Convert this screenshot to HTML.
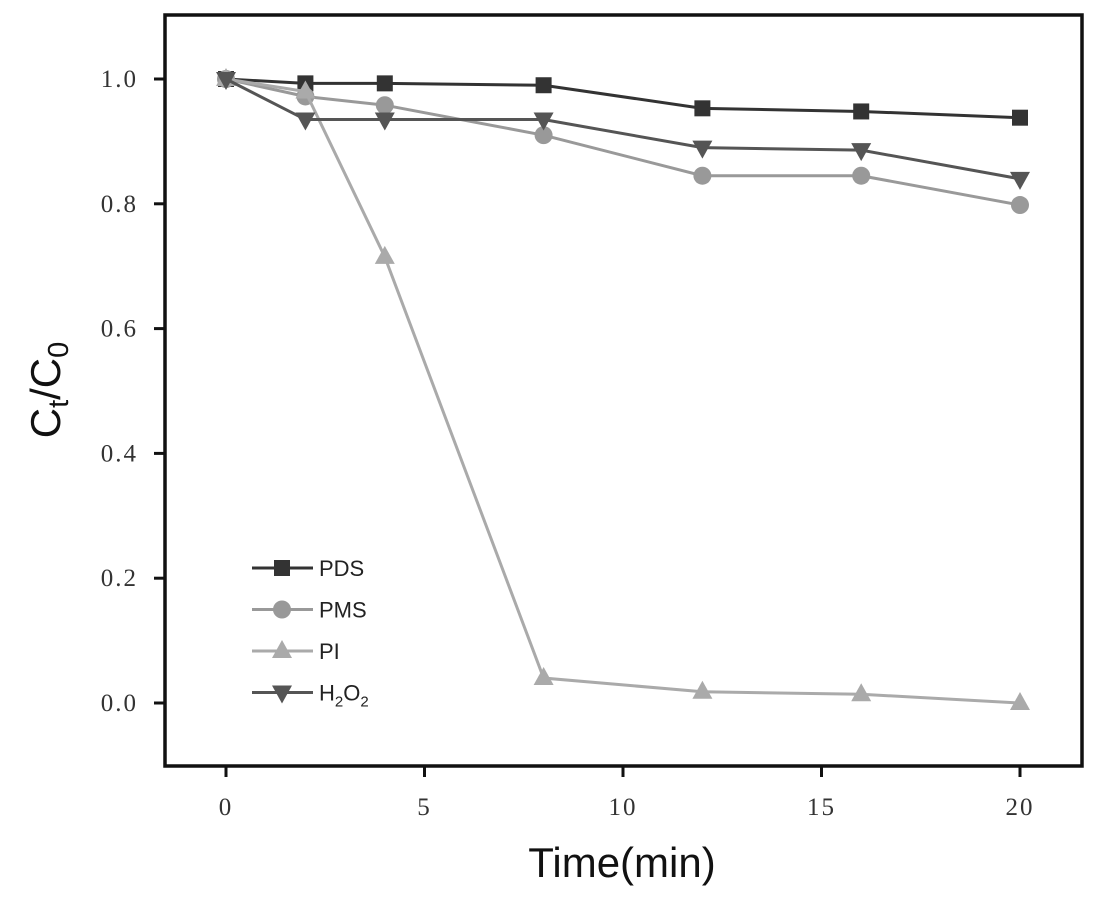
<!DOCTYPE html><html><head><style>body{margin:0;background:#fff}svg{display:block}</style></head><body>
<svg id="s" width="1098" height="904" xmlns="http://www.w3.org/2000/svg"></svg>
<script>
const s=document.getElementById('s');
const X=t=>226+39.7*t, Y=v=>703-624*v;
let h='';
h+='<rect x="165" y="15" width="917" height="751" fill="none" stroke="#111" stroke-width="3.5"/>';
[0,5,10,15,20].forEach(t=>{h+=`<line x1="${X(t)}" y1="766" x2="${X(t)}" y2="777" stroke="#111" stroke-width="3"/><text x="${X(t)}" y="815" font-family="Liberation Serif,serif" font-size="25" fill="#333" text-anchor="middle" letter-spacing="2">${t}</text>`;});
[0,0.2,0.4,0.6,0.8,1.0].forEach(v=>{h+=`<line x1="154" y1="${Y(v)}" x2="165" y2="${Y(v)}" stroke="#111" stroke-width="3"/><text x="138" y="${Y(v)+8}" font-family="Liberation Serif,serif" font-size="25" fill="#333" text-anchor="end" letter-spacing="2">${v.toFixed(1)}</text>`;});
h+='<text x="622" y="877" font-family="Liberation Sans,sans-serif" font-size="42" fill="#111" text-anchor="middle">Time(min)</text>';
h+='<text transform="translate(60,390) rotate(-90)" font-family="Liberation Sans,sans-serif" font-size="42" fill="#111" text-anchor="middle">C<tspan font-size="29" dy="8">t</tspan><tspan dy="-8">/C</tspan><tspan font-size="29" dy="8">0</tspan></text>';
const T=[0,2,4,8,12,16,20];
const S=[
 {c:'#333',m:'sq',d:[1,0.993,0.993,0.99,0.953,0.948,0.938],n:'PDS'},
 {c:'#999',m:'ci',d:[1,0.972,0.958,0.91,0.845,0.845,0.798],n:'PMS'},
 {c:'#aaa',m:'tu',d:[1,0.98,0.715,0.04,0.018,0.014,0.0],n:'PI'},
 {c:'#555',m:'td',d:[1,0.935,0.935,0.935,0.89,0.886,0.84],n:'H2O2'}];
function mk(m,x,y,c){
 if(m=='sq')return `<rect x="${x-8}" y="${y-8}" width="16" height="16" fill="${c}"/>`;
 if(m=='ci')return `<circle cx="${x}" cy="${y}" r="9" fill="${c}"/>`;
 if(m=='tu')return `<polygon points="${x},${y-11} ${x-10},${y+7} ${x+10},${y+7}" fill="${c}"/>`;
 return `<polygon points="${x},${y+11} ${x-10},${y-7} ${x+10},${y-7}" fill="${c}"/>`;
}
S.forEach((q,i)=>{
 h+=`<polyline points="${T.map((t,j)=>X(t)+','+Y(q.d[j])).join(' ')}" fill="none" stroke="${q.c}" stroke-width="3"/>`;
 T.forEach((t,j)=>h+=mk(q.m,X(t),Y(q.d[j]),q.c));
 const ly=568+41.5*i;
 h+=`<line x1="252" y1="${ly}" x2="313" y2="${ly}" stroke="${q.c}" stroke-width="3"/>`+mk(q.m,282,ly,q.c);
 const lab=q.n=='H2O2'?'H<tspan font-size="15" dy="6">2</tspan><tspan dy="-6">O</tspan><tspan font-size="15" dy="6">2</tspan>':q.n;
 h+=`<text x="319" y="${ly+8}" font-family="Liberation Sans,sans-serif" font-size="22" fill="#222">${lab}</text>`;
});
s.innerHTML=h;
</script></body></html>
